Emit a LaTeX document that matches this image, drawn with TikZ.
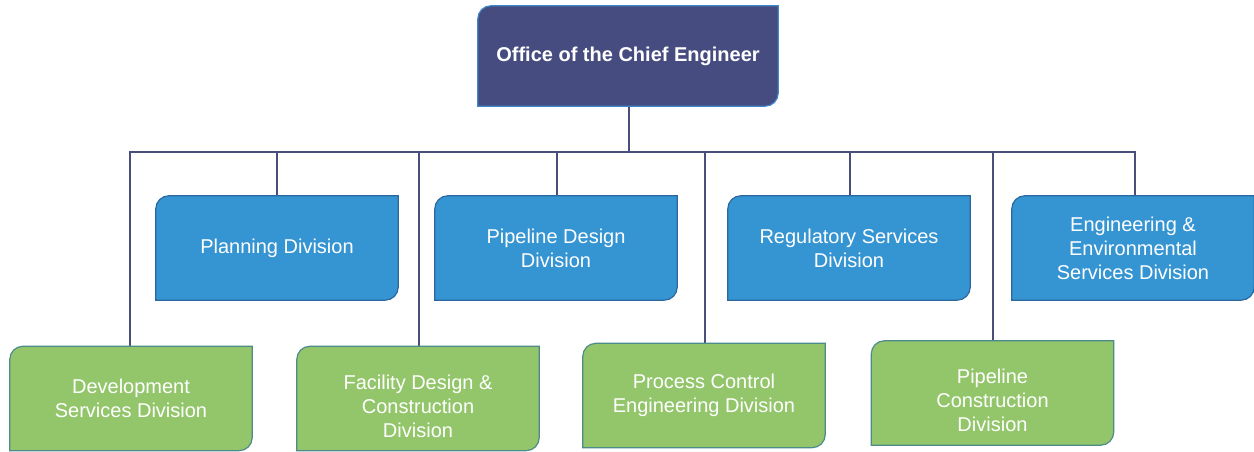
\documentclass[tikz,border=0pt]{standalone}
\usepackage{fontspec}
\setmainfont{Liberation Sans}
\usetikzlibrary{backgrounds,calc}
\definecolor{topfill}{HTML}{474C80}
\definecolor{topedge}{HTML}{3E86C8}
\definecolor{bluefill}{HTML}{3594D2}
\definecolor{blueedge}{HTML}{2C68A0}
\definecolor{greenfill}{HTML}{93C66B}
\definecolor{greenedge}{HTML}{4D8A8A}
\definecolor{linecol}{HTML}{4A4E7C}
\tikzset{
  box/.style={rectangle, inner sep=0pt, minimum width=242pt, minimum height=104pt,
    align=center, text=white, font=\fontsize{20}{24}\selectfont},
  topbox/.style={box, minimum width=300pt, minimum height=100pt, font=\bfseries\fontsize{20}{24}\selectfont},
  conn/.style={draw=linecol, line width=1.6pt},
}
\newcommand{\boxshape}[3]{%
  \path[fill=#2, draw=#3, line width=1.2pt]
    ($(#1.north west)+(0pt,-13pt)$) arc[start angle=180,end angle=90,radius=13pt]
    -- (#1.north east) -- ($(#1.south east)+(0pt,13pt)$)
    arc[start angle=0,end angle=-90,radius=13pt] -- (#1.south west) -- cycle;}
\begin{document}
\begin{tikzpicture}[x=1pt,y=1pt]
\useasboundingbox (0,0) rectangle (1254,452);
% top
\node[topbox] (oce) at (628,396) {Office of the Chief Engineer};
% blue
\node[box] (plan) at (277,204) {Planning Division};
\node[box] (pdes) at (556,204) {Pipeline Design\\Division};
\node[box] (reg) at (849,204) {Regulatory Services\\Division};
\node[box] (eng) at (1133,204) {Engineering \&\\Environmental\\Services Division};
% green
\node[box] (dev) at (131,53.5) {Development\\Services Division};
\node[box] (fac) at (418,53.5) {\rule{0pt}{30pt}Facility Design \&\\Construction\\Division};
\node[box] (pcd) at (704,56.5) {Process Control\\Engineering Division};
\node[box] (pcon) at (992.5,59) {\rule{0pt}{30pt}Pipeline\\Construction\\Division};
\coordinate (bus) at (629,300);
\begin{scope}[on background layer]
  \draw[conn] (oce.south -| bus) -- (bus);
  \draw[conn] (dev.north -| 130,0) |- (1135,300) -- (1135,300 |- eng.north);
  \foreach \n/\x in {plan/277, pdes/557, reg/850, fac/419, pcd/705, pcon/993}
    \draw[conn] (\x,300) -- (\n.north -| \x,0);
  \boxshape{oce}{topfill}{topedge}
  \foreach \n in {plan,pdes,reg,eng} {\boxshape{\n}{bluefill}{blueedge}}
  \foreach \n in {dev,fac,pcd,pcon} {\boxshape{\n}{greenfill}{greenedge}}
\end{scope}
\end{tikzpicture}
\end{document}
